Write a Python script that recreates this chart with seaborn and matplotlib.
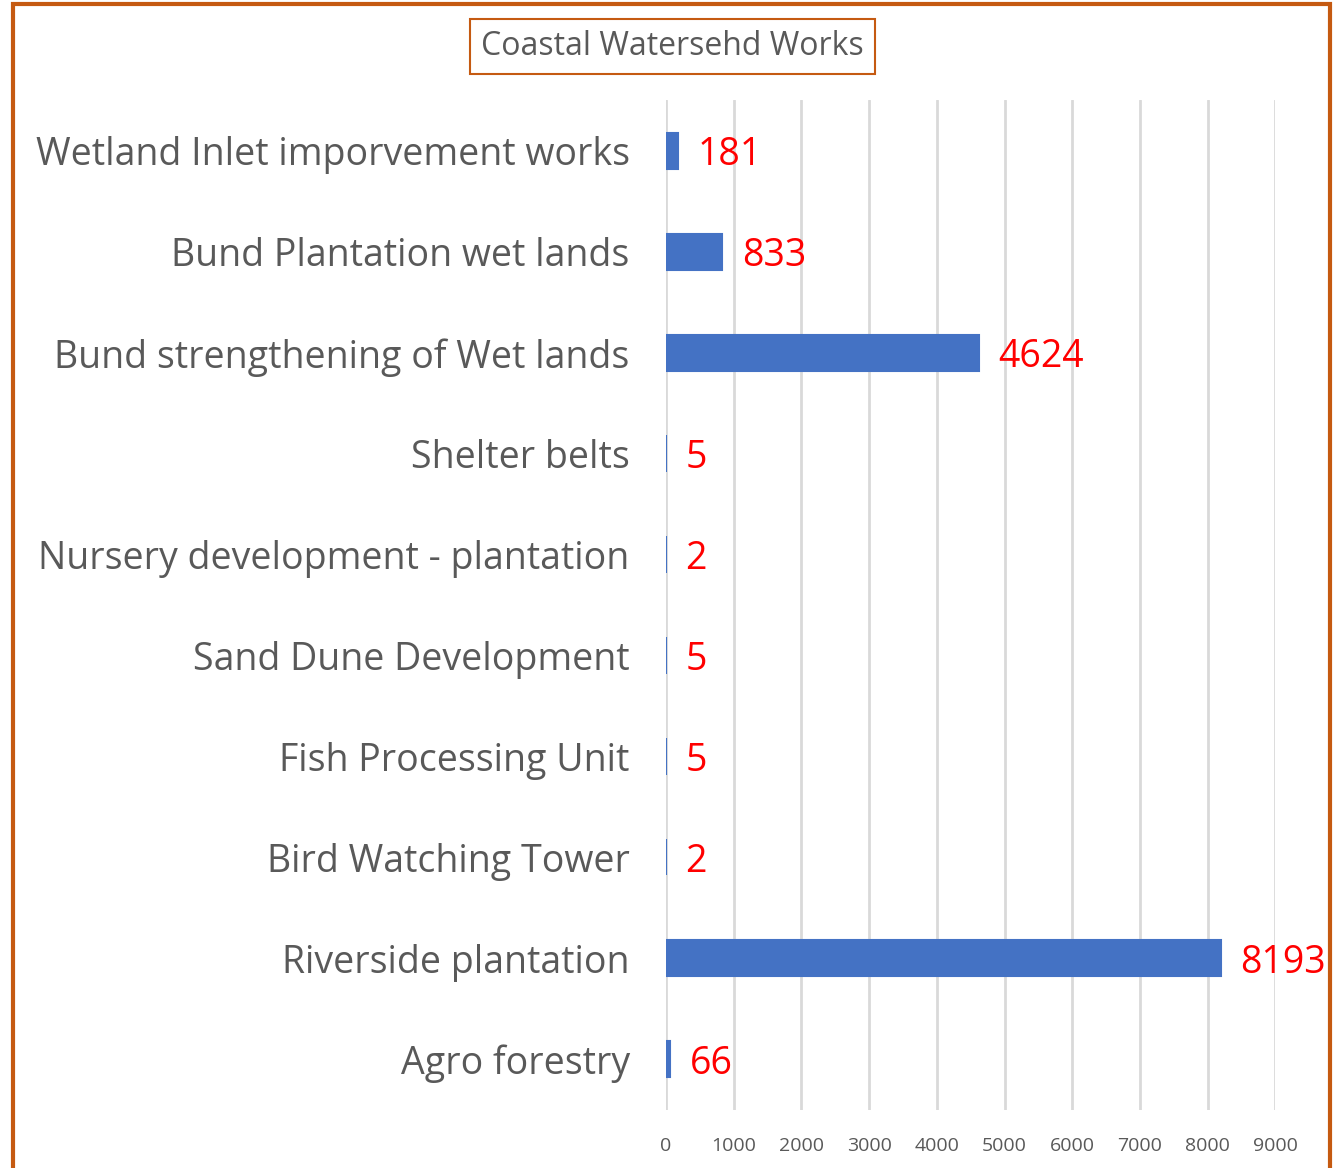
# Coastal watershed works - horizontal bar chart
import matplotlib.pyplot as plt
import matplotlib.patches as mpatches
import seaborn as sns
import pandas as pd

categories = ["Wetland Inlet imporvement works", "Bund Plantation wet lands",
              "Bund strengthening of Wet lands", "Shelter belts",
              "Nursery development - plantation", "Sand Dune Development",
              "Fish Processing Unit", "Bird Watching Tower",
              "Riverside plantation", "Agro forestry"]
values = [181, 833, 4624, 5, 2, 5, 5, 2, 8193, 66]
x_ticks = [0, 1000, 2000, 3000, 4000, 5000, 6000, 7000, 8000, 9000]

df = pd.DataFrame({"work": categories, "count": values})

sns.set_style("white")
plt.rcParams['font.family'] = ['Open Sans', 'DejaVu Sans']

fig = plt.figure(figsize=(13.37, 11.68), dpi=100)
ax = fig.add_axes([0.498, 0.050, 0.456, 0.864])

sns.barplot(data=df, x="count", y="work", orient="h", color="#4472C4",
            saturation=1, width=0.36, edgecolor="#4472C4", linewidth=1.5, ax=ax)

ax.set_xlim(0, 9000)
ax.set_xticks(x_ticks)
ax.set_xlabel("")
ax.set_ylabel("")
ax.grid(axis="x", color="#D9D9D9", linewidth=2)
ax.set_axisbelow(True)
for s in ax.spines.values():
    s.set_visible(False)
ax.tick_params(axis="x", length=0, pad=20, labelsize=14, labelcolor="#595959")
ax.tick_params(axis="y", length=0, pad=26, labelsize=27, labelcolor="#595959")

lbls = ax.bar_label(ax.containers[0], labels=[str(v) for v in values],
                    padding=14, color="red", fontsize=27)
for t in lbls:
    t.set_verticalalignment("center_baseline")

# title in a framed box
fig.text(0.503, 0.960, "Coastal Watersehd Works", ha="center", va="center",
         fontsize=23, color="#595959",
         bbox=dict(boxstyle="square,pad=0.35", facecolor="white",
                   edgecolor="#C55A11", linewidth=1.5))

# outer chart border
border = mpatches.Rectangle((13 / 1337, -0.01), (1330 - 13) / 1337, 1.007,
                            transform=fig.transFigure, fill=False,
                            edgecolor="#C55A11", linewidth=3, clip_on=False)
fig.patches.append(border)

fig.savefig("out.png", dpi=100)
plt.close()
